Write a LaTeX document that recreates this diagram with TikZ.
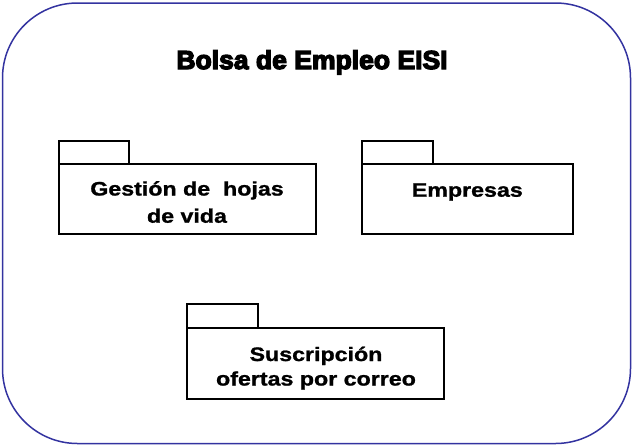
\documentclass[tikz,border=0pt]{standalone}
\usepackage{fontspec}
\newfontfamily\pkgfont[FakeStretch=1.19,FakeBold=1.2]{Liberation Sans Bold}
\newfontfamily\titlefont[FakeStretch=1.02,FakeBold=5]{Liberation Sans Bold}
\definecolor{frameblue}{RGB}{51,51,160}
\begin{document}
\begin{tikzpicture}[x=1pt,y=-1pt,
  frame/.style={draw=frameblue,line width=1.5pt,rounded corners=75pt},
  pkgline/.style={draw=black,line width=1.7pt},
  pkgtext/.style={font=\pkgfont\fontsize{19.5}{26.5}\selectfont,align=center,inner sep=0pt,anchor=base},
  titletext/.style={font=\titlefont\fontsize{26}{30}\selectfont,inner sep=0pt,anchor=base}]
\useasboundingbox (0,0) rectangle (632,445);
\draw[frame] (2.5,3) rectangle (630.5,443.5);
\node[titletext] (title) at (312,69) {Bolsa de Empleo EISI};
% package 1
\draw[pkgline] (58.7,164) rectangle (129,141);
\draw[pkgline] (58.7,164) rectangle (315.7,234);
\node[pkgtext] (p1a) at (187,195.5) {Gestión de\ \ hojas};
\node[pkgtext] (p1b) at (187,222.7) {de vida};
% package 2
\draw[pkgline] (361.7,164) rectangle (433.3,141);
\draw[pkgline] (361.7,164) rectangle (572.7,234);
\node[pkgtext] (p2) at (467.3,196.7) {Empresas};
% package 3
\draw[pkgline] (187.3,327.7) rectangle (257.7,304);
\draw[pkgline] (187.3,327.7) rectangle (444.3,399.3);
\node[pkgtext] (p3a) at (316,361) {Suscripción};
\node[pkgtext] (p3b) at (316,385.5) {ofertas por correo};
\end{tikzpicture}
\end{document}
